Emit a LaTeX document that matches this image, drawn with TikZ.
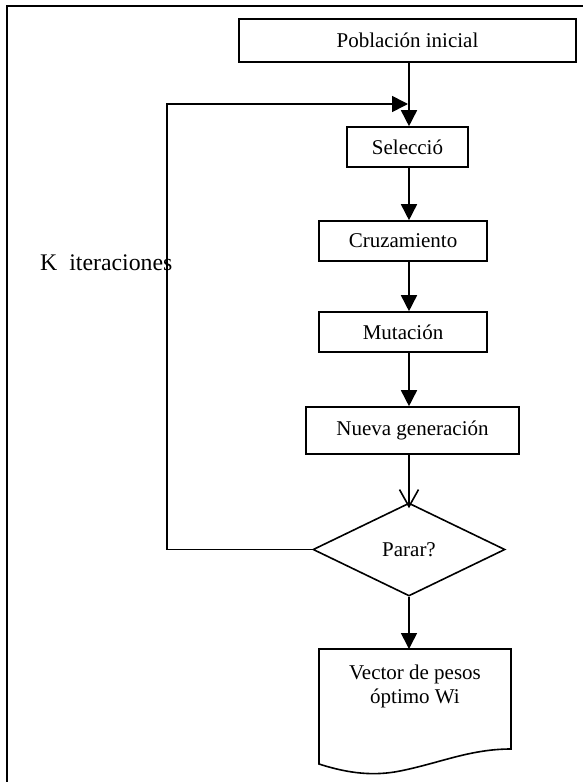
\documentclass[tikz,border=0pt]{standalone}
\usepackage{fontspec}
\setmainfont{Liberation Serif}
\usetikzlibrary{arrows.meta,shapes.geometric}
\begin{document}
\begin{tikzpicture}[x=1pt,y=-1pt,
  box/.style={draw,line width=1.6pt,inner sep=0pt,font=\fontsize{21}{24}\selectfont,align=center},
  arr/.style={line width=1.6pt,-{Triangle[length=16pt,width=16pt]}},
  openarr/.style={line width=1.6pt,-{Straight Barb[length=17pt,width=19pt,line width=1.6pt]}},
  lnk/.style={line width=1.6pt}]
\useasboundingbox (0,0) rectangle (583,782);
% outer frame (clipped at right and bottom)
\draw[line width=2pt] (7,800) -- (7,6) -- (600,6);
\coordinate (col) at (409,0);
\node[box,minimum width=337pt,minimum height=43pt] (pob) at (407.5,40.5) {Población inicial};
\node[box,minimum width=121pt,minimum height=40pt] (sel) at (407.5,147) {Selecció};
\node[box,minimum width=168pt,minimum height=40pt] (cru) at (403,241) {Cruzamiento};
\node[box,minimum width=168pt,minimum height=40pt] (mut) at (403,332) {\raisebox{-4pt}{Mutación}};
\node[box,minimum width=213pt,minimum height=47pt] (nue) at (412.5,430.5) {Nueva generación};
\node[box,diamond,minimum width=192pt,minimum height=93pt] (par) at (409,549.5) {Parar?};
% document shape
\coordinate (doctop) at (409,649);
\draw[line width=1.6pt] (319,649) -- (511,649) -- (511,749)
  .. controls (470,749) and (440,763) .. (400,771)
  .. controls (375,776) and (350,774) .. (319,764) -- cycle;
\node[font=\fontsize{21}{24}\selectfont,align=center,inner sep=0pt] (doc) at (415,686) {Vector de pesos\\óptimo Wi};
\node[font=\fontsize{23.8}{27}\selectfont,anchor=west,inner sep=0pt] (kit) at (40,263) {K~~iteraciones};
% connectors
\coordinate (join) at (408,104);
\draw[arr] (pob.south -| col) -- (sel.north -| col);
\draw[arr] (sel.south -| col) -- (cru.north -| col);
\draw[arr] (cru.south -| col) -- (mut.north -| col);
\draw[arr] (mut.south -| col) -- (nue.north -| col);
\draw[openarr] (nue.south -| col) -- ([yshift=-6pt]par.north);
\draw[arr] (par.south) -- (doctop);
\draw[arr] (par.west) -- (167,549.5) |- (join);
\end{tikzpicture}
\end{document}
